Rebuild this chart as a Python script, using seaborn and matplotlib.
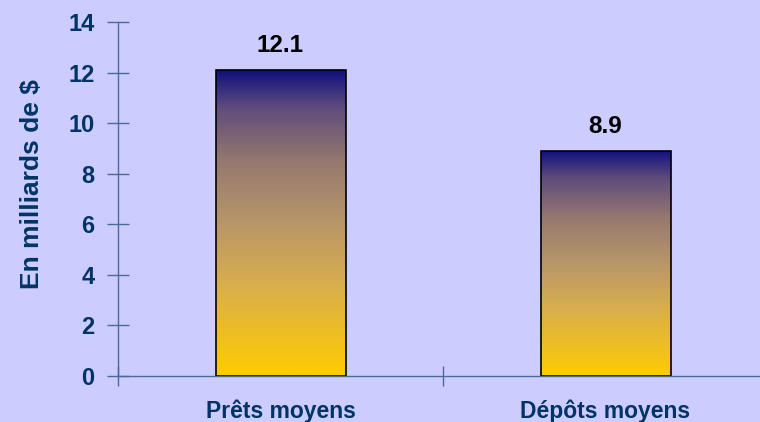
import numpy as np
import matplotlib
matplotlib.use("Agg")
import matplotlib.pyplot as plt
import seaborn as sns
from matplotlib.colors import LinearSegmentedColormap

categories = ["Prêts moyens", "Dépôts moyens"]
values = [12.1, 8.9]
value_labels = ["12.1", "8.9"]
y_ticks = [0, 2, 4, 6, 8, 10, 12, 14]

bg = "#CCCCFF"
navy = "#003366"
axis_col = "#4A6A9A"

sns.set_style("white")
plt.rcParams["font.family"] = ["Liberation Sans", "DejaVu Sans"]
plt.rcParams["font.weight"] = "bold"

fig = plt.figure(figsize=(7.6, 4.22), dpi=100, facecolor=bg)
ax = fig.add_axes([118 / 760, 1 - 376 / 422, 650 / 760, 354 / 422])
ax.set_facecolor(bg)

sns.barplot(x=categories, y=values, width=0.4, color="white",
            edgecolor="black", linewidth=1.2, ax=ax)

# gradient fill, navy at the top of each bar, gold at the bottom
cmap = LinearSegmentedColormap.from_list("grad", [
    (0.0, "#FFCC00"), (0.3, "#D8AE4E"), (0.5, "#B89668"),
    (0.7, "#96796F"), (0.88, "#5E4B7C"), (1.0, "#10107F")])
grad = np.linspace(0, 1, 256).reshape(-1, 1)
for patch in ax.patches:
    x0, y0 = patch.get_x(), patch.get_y()
    w, h = patch.get_width(), patch.get_height()
    im = ax.imshow(grad, extent=[x0, x0 + w, y0, y0 + h], origin="lower",
                   cmap=cmap, aspect="auto", zorder=patch.get_zorder())
    im.set_clip_path(patch)
    patch.set_facecolor("none")
    patch.set_zorder(patch.get_zorder() + 1)

for i, (v, lab) in enumerate(zip(values, value_labels)):
    ax.text(i, v + 0.72, lab, ha="center", va="baseline", fontsize=17.5,
            fontweight="bold", color="black")

ax.set_xlim(-0.5, 1.5)
ax.set_ylim(0, 14)
ax.set_yticks(y_ticks)
ax.set_xticks([0, 1])
ax.set_xticks([-0.5, 0.5, 1.5], minor=True)
ax.set_yticklabels([str(t) for t in y_ticks], fontsize=17, fontweight="bold", color=navy)
ax.set_xticklabels(categories, fontsize=16.5, fontweight="bold", color=navy)
ax.tick_params(axis="x", which="major", bottom=True, length=0, pad=17)
ax.tick_params(axis="x", which="minor", bottom=True, direction="inout", length=14,
               color=axis_col, width=1)
ax.tick_params(axis="y", left=True, direction="inout", length=16, color=axis_col,
               width=1, pad=9)

for side in ["top", "right"]:
    ax.spines[side].set_visible(False)
for side in ["left", "bottom"]:
    ax.spines[side].set_color(axis_col)
    ax.spines[side].set_linewidth(1)

ax.set_xlabel("")
ax.set_ylabel("En milliards de $", fontsize=19, fontweight="bold", color=navy)
ax.yaxis.set_label_coords(-0.114, 0.542)

fig.savefig("out.png", dpi=100, facecolor=bg)
